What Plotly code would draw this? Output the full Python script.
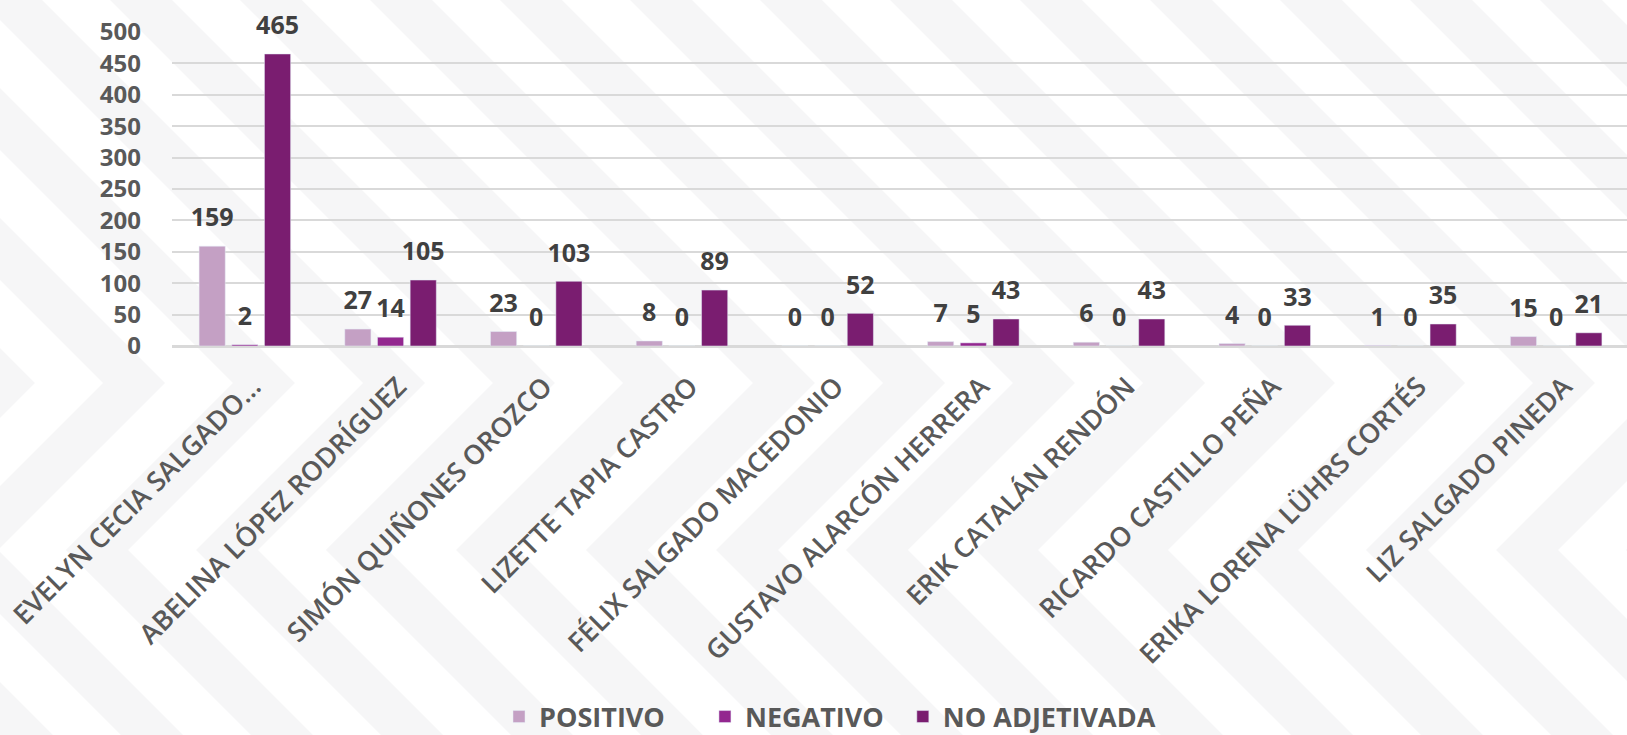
import plotly.graph_objects as go

candidatos = [
    "EVELYN CECIA SALGADO...",
    "ABELINA LÓPEZ RODRÍGUEZ",
    "SIMÓN QUIÑONES OROZCO",
    "LIZETTE TAPIA CASTRO",
    "FÉLIX SALGADO MACEDONIO",
    "GUSTAVO ALARCÓN HERRERA",
    "ERIK CATALÁN RENDÓN",
    "RICARDO CASTILLO PEÑA",
    "ERIKA LORENA LÜHRS CORTÉS",
    "LIZ SALGADO PINEDA",
]
positivo = [159, 27, 23, 8, 0, 7, 6, 4, 1, 15]
negativo = [2, 14, 0, 0, 0, 5, 0, 0, 0, 0]
no_adjetivada = [465, 105, 103, 89, 52, 43, 43, 33, 35, 21]

y_ticks = list(range(0, 501, 50))

SERIES = [
    ("POSITIVO", positivo, "#C4A0C4"),
    ("NEGATIVO", negativo, "#93278F"),
    ("NO ADJETIVADA", no_adjetivada, "#7A1D70"),
]
LEGEND_PAD = [5, 2, 0]  # non-breaking spaces after each legend name

W, H = 1627, 735
M_L, M_R, M_T, M_B = 172, 0, 32, 389
PLOT_W = W - M_L - M_R
PLOT_H = H - M_T - M_B
CAT_W = 145.7
BAR_GAP = 0.327
STRIPE = "#F6F6F7"


def to_paper(x, y):
    # pixel coords of the page -> paper coords of the plot area
    return (x - M_L) / PLOT_W, (H - M_B - y) / PLOT_H


def band(pts):
    path = ""
    for i, (x, y) in enumerate(pts):
        u, v = to_paper(x, y)
        path += ("M" if i == 0 else "L") + f"{u:.4f},{v:.4f} "
    return dict(type="path", path=path + "Z", xref="paper", yref="paper",
                fillcolor=STRIPE, line=dict(width=0), layer="below")


# decorative background: zigzag stripes ("\" on top, "<" chevrons lower down)
shapes = []
for x0 in range(-800, W + 200, 130):
    left = [(x0, 0), (x0 + 383, 383), (x0 + 216, 550), (x0 + 401, H)]
    right = [(x + 62, y) for x, y in reversed(left)]
    shapes.append(band(left + right))

label_font = dict(family="Open Sans", size=25, color="#404040", weight="bold")

fig = go.Figure()
for (name, vals, color), pad in zip(SERIES, LEGEND_PAD):
    fig.add_trace(go.Bar(
        name=name + "\u00a0" * pad,
        x=candidatos, y=vals, marker_color=color,
        hoverinfo="x+y",
    ))
# value labels, grouped like the bars so they sit above each one
for name, vals, color in SERIES:
    fig.add_trace(go.Scatter(
        x=candidatos, y=vals, mode="markers+text", text=vals,
        textposition="top center", textfont=label_font,
        marker=dict(size=20, opacity=0), cliponaxis=False,
        showlegend=False, hoverinfo="skip",
    ))

fig.update_layout(
    width=W, height=H,
    margin=dict(l=M_L, r=M_R, t=M_T, b=M_B, autoexpand=False),
    paper_bgcolor="white", plot_bgcolor="rgba(0,0,0,0)",
    barmode="group", bargap=BAR_GAP, bargroupgap=0.2,
    scattermode="group", scattergap=BAR_GAP,
    shapes=shapes,
    font=dict(family="Open Sans", color="#595959"),
    legend=dict(orientation="h", x=(830 - M_L) / PLOT_W, xanchor="center",
                y=(H - M_B - 717) / PLOT_H, yanchor="middle",
                font=dict(size=27, weight="bold", color="#595959"),
                bgcolor="rgba(0,0,0,0)"),
    showlegend=True,
)
fig.update_xaxes(
    range=[-0.5, -0.5 + PLOT_W / CAT_W], tickangle=-45,
    ticklabelshift=8, ticklabelstandoff=12,
    tickfont=dict(size=27, weight=600, color="#595959"),
    showgrid=False, showline=True, linecolor="#D9D9D9", linewidth=2,
)
fig.update_yaxes(
    range=[0, 500], tickvals=y_ticks, ticklabelstandoff=30,
    tickfont=dict(size=24, weight="bold", color="#595959"),
    showgrid=True, gridcolor="#D9D9D9", gridwidth=2,
    zeroline=True, zerolinecolor="#D9D9D9", zerolinewidth=2,
)

fig.write_html("out.html", config={"displayModeBar": False},
               post_script="document.body.style.margin='0';")
